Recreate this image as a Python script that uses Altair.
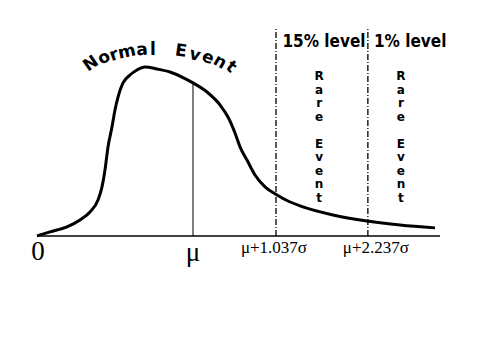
import altair as alt
import pandas as pd

# Curve (x in arbitrary units 0..100, y relative density, peak ~ 1)
curve_x = [0, 3.23, 7.44, 10.67, 13.15, 15.14, 16.13, 16.87, 17.62, 18.61, 19.35, 20.10,
           21.34, 23.08, 24.81, 26.80, 29.78, 33.00, 35.98, 38.71, 42.18, 45.41, 47.39,
           49.13, 50.37, 52.11, 54.09, 56.58, 59.55, 62.28, 65.26, 73.45, 81.89, 90.07, 98.76]
curve_y = [0, 0.024, 0.054, 0.095, 0.143, 0.214, 0.292, 0.393, 0.530, 0.649, 0.750, 0.827,
           0.911, 0.958, 0.988, 1.006, 0.994, 0.976, 0.946, 0.911, 0.857, 0.780, 0.708,
           0.613, 0.530, 0.452, 0.363, 0.292, 0.244, 0.208, 0.179, 0.125, 0.089, 0.065, 0.048]

# Key positions
mu_x = 38.71
mu_y = 0.911
level_x = [59.3, 82.1]
level_top = 1.238
axis_end = 100.0

tick_labels = ["0", "μ", "μ+1.037σ", "μ+2.237σ"]
tick_x = [0.25, 38.71, 58.8, 84.1]
tick_y = [-0.095, -0.101, -0.071, -0.071]

level_labels = ["15% level", "1% level"]
level_label_x = [71.2, 92.6]
level_label_y = [1.155, 1.155]

rare_letters = ["R", "a", "r", "e", "", "E", "v", "e", "n", "t"]
rare_x = [70.0, 90.3]
rare_top = 0.952      # centre of first letter
rare_step = 0.0804    # vertical spacing between letters

normal_letters = ["N", "o", "r", "m", "a", "l", "E", "v", "e", "n", "t"]
normal_x = [13.40, 16.63, 19.11, 22.33, 26.05, 28.78, 35.73, 39.21, 42.43, 45.41, 48.14]
normal_y = [1.024, 1.060, 1.077, 1.095, 1.107, 1.107, 1.101, 1.077, 1.060, 1.036, 1.006]
normal_angle = [325, 332, 340, 348, 355, 0, 8, 15, 22, 30, 40]

W, H = 463, 343
xs = alt.Scale(domain=[-7.196, 107.69], nice=False, zero=False)
ys = alt.Scale(domain=[-0.685, 1.357], nice=False, zero=False)

def X(f="x"):
    return alt.X(f"{f}:Q", scale=xs, axis=None)

def Y(f="y"):
    return alt.Y(f"{f}:Q", scale=ys, axis=None)

curve_df = pd.DataFrame({"x": curve_x, "y": curve_y, "o": range(len(curve_x))})
curve = alt.Chart(curve_df).mark_line(color="black", strokeWidth=3, interpolate="monotone").encode(
    x=X(), y=Y(), order="o:Q")

base_df = pd.DataFrame({"x": [0], "x2": [axis_end], "y": [0]})
baseline = alt.Chart(base_df).mark_rule(color="black", strokeWidth=1.5).encode(
    x=X(), x2="x2:Q", y=Y())

mu_df = pd.DataFrame({"x": [mu_x], "y": [0], "y2": [mu_y]})
mu_rule = alt.Chart(mu_df).mark_rule(color="black", strokeWidth=1).encode(
    x=X(), y=Y(), y2="y2:Q")

lvl_df = pd.DataFrame({"x": level_x, "y": [0, 0], "y2": [level_top, level_top]})
lvl_rules = alt.Chart(lvl_df).mark_rule(color="black", strokeWidth=1.3, strokeDash=[6, 2, 1, 2]).encode(
    x=X(), y=Y(), y2="y2:Q")

tick_df = pd.DataFrame({"x": tick_x, "y": tick_y, "t": tick_labels})
ticks_big = alt.Chart(tick_df.iloc[:2]).mark_text(
    font="Liberation Serif", fontSize=27, color="black", baseline="middle", align="center").encode(
    x=X(), y=Y(), text="t:N")
ticks_small = alt.Chart(tick_df.iloc[2:]).mark_text(
    font="Liberation Serif", fontSize=17, color="black", baseline="middle", align="center").encode(
    x=X(), y=Y(), text="t:N")

lvl_lab_df = pd.DataFrame({"x": level_label_x, "y": level_label_y, "t": level_labels})
lvl_labels = alt.Chart(lvl_lab_df).mark_text(
    font="DejaVu Sans Condensed, Liberation Sans", fontWeight="bold", fontSize=17, color="black",
    baseline="middle", align="center").encode(x=X(), y=Y(), text="t:N")

rare_rows = [{"x": cx, "i": i, "t": ch} for cx in rare_x for i, ch in enumerate(rare_letters)]
rare_df = pd.DataFrame(rare_rows)
rare = alt.Chart(rare_df).transform_calculate(
    y=f"{rare_top} - datum.i * {rare_step}"
).mark_text(
    font="DejaVu Sans", fontWeight="bold", fontSize=12, color="black",
    baseline="middle", align="center").encode(x=X(), y=Y(), text="t:N")

normal_df = pd.DataFrame({"x": normal_x, "y": normal_y, "t": normal_letters, "a": normal_angle})
normal = alt.Chart(normal_df).mark_text(
    font="DejaVu Sans", fontWeight="bold", fontSize=17, color="black",
    baseline="middle", align="center").encode(
    x=X(), y=Y(), text="t:N", angle=alt.Angle("a:Q", scale=None))

chart = alt.layer(baseline, mu_rule, lvl_rules, curve, ticks_big, ticks_small, lvl_labels, rare, normal).properties(
    width=W, height=H, padding=0, autosize=alt.AutoSizeParams(type="none"),
    background="white"
).configure_view(stroke=None)

chart.save("out.html", embed_options={"renderer": "svg", "actions": False})
